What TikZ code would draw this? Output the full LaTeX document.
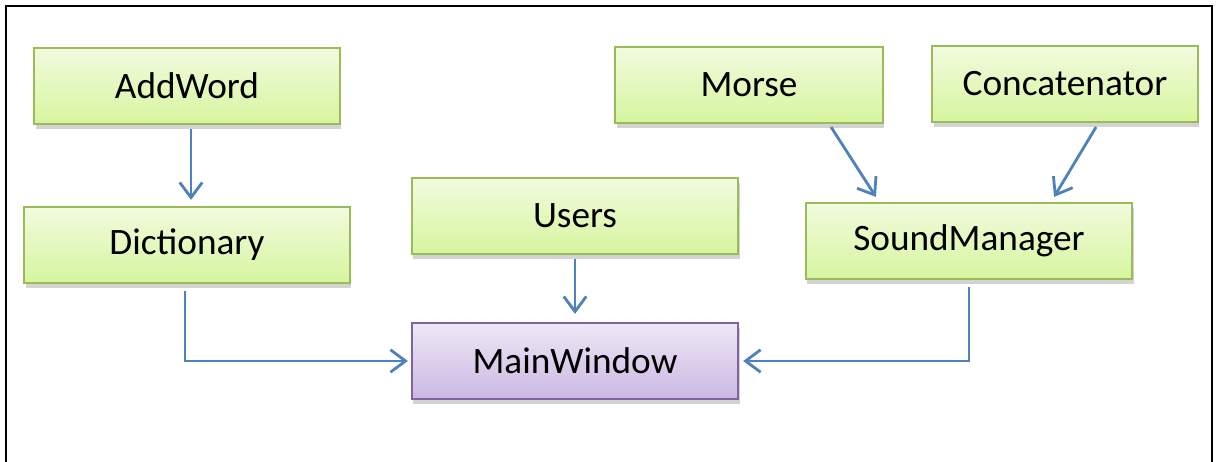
\documentclass[tikz,border=0pt]{standalone}
\usepackage{fontspec}
\setmainfont{Carlito}
\usetikzlibrary{arrows.meta,shadows,positioning}
\definecolor{boxgreen}{HTML}{9BBB59}
\definecolor{greentop}{HTML}{F2FBDF}
\definecolor{greenbot}{HTML}{D6F59E}
\definecolor{boxviolet}{HTML}{8064A2}
\definecolor{violettop}{HTML}{EFE7F6}
\definecolor{violetbot}{HTML}{CBB8E2}
\definecolor{linkblue}{HTML}{4F81BD}

\begin{document}
\begin{tikzpicture}
[x=0.01cm,y=-0.01cm,>={Straight Barb[length=4.3pt,width=6.4pt]},
class/.style = {draw=boxgreen, line width=0.6pt, top color=greentop, bottom color=greenbot, minimum height=0.76cm, font=\fontsize{10.6}{12}\selectfont, drop shadow={shadow xshift=0.4pt, shadow yshift=-1.4pt, opacity=0.35}},
main/.style = {class, draw=boxviolet, top color=violettop, bottom color=violetbot},
link/.style = {->, draw=linkblue, line width=0.8pt},]
\useasboundingbox (0,0) rectangle (1219,462);
\draw [line width=0.8pt] (6,470)--(6,6)--(1212,6)--(1212,470);
\node (AW) at (187,86)[class,minimum width=3.05cm] {AddWord};
\node (D) at (187,245)[class,minimum width=3.25cm] {Dictionary};
\node (U) at (575,216)[class,minimum width=3.26cm] {Users};
\node (Mo) at (749,85)[class,minimum width=2.67cm] {Morse};
\node (C) at (1065,84)[class,minimum width=2.65cm] {Concatenator};
\node (SM) at (969,241)[class,minimum width=3.26cm] {SoundManager};
\node (MW) at (575,361)[main,minimum width=3.26cm] {MainWindow};
\draw [link] ([xshift=0.04cm,yshift=-0.04cm]AW.south)--([xshift=0.04cm,yshift=0.06cm]D.north);
\draw [link] ([yshift=-0.04cm]U.south)--([yshift=0.08cm]MW.north);
\draw [link] ([xshift=-0.02cm,yshift=-0.07cm]D.south)|-([xshift=-0.03cm]MW.west);
\draw [link] ([yshift=-0.07cm]SM.south)|-([xshift=0.04cm]MW.east);
\draw [link] ([xshift=0.82cm,yshift=-0.03cm]Mo.south)--([xshift=-0.93cm,yshift=0.05cm]SM.north);
\draw [link] ([xshift=0.31cm,yshift=-0.04cm]C.south)--([xshift=0.85cm,yshift=0.05cm]SM.north);



\end{tikzpicture}
\end{document}
